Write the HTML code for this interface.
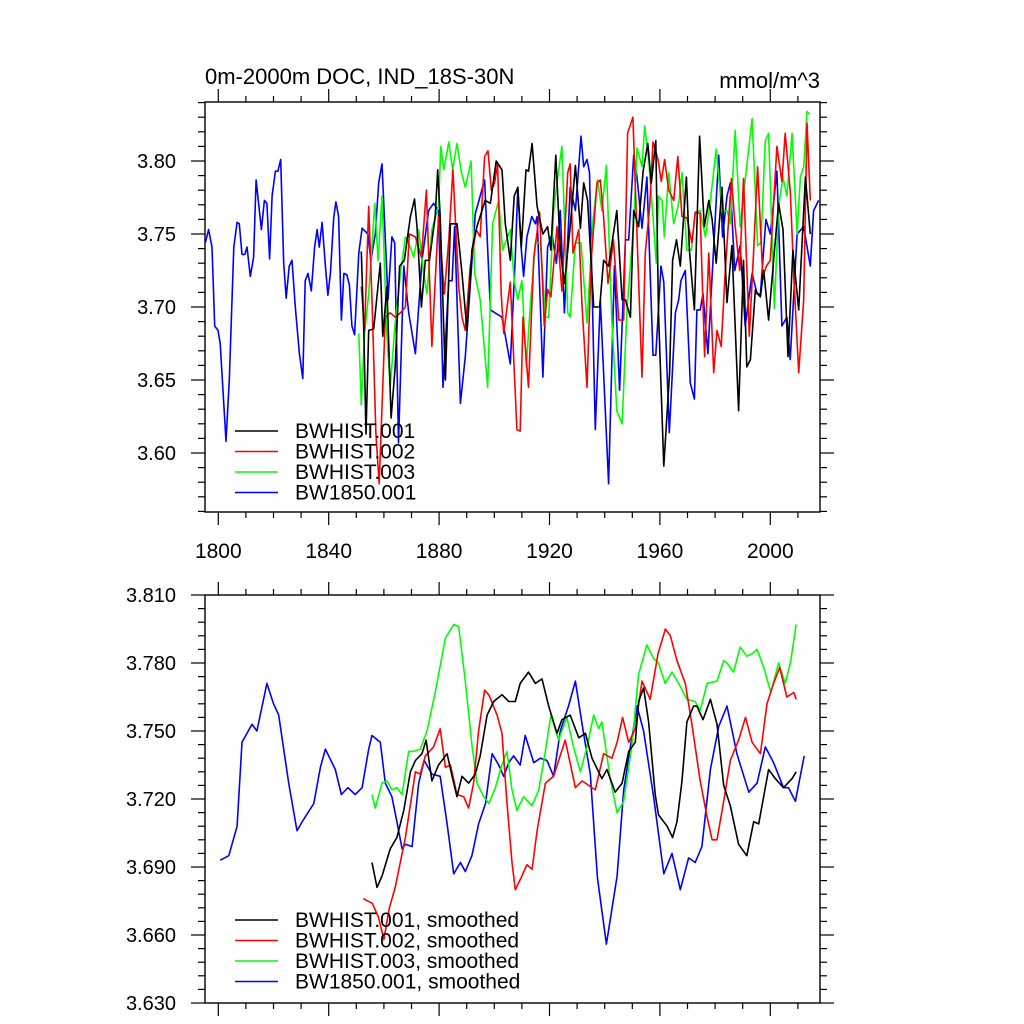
<!DOCTYPE html>
<html><head><meta charset="utf-8"><title>DOC chart</title>
<style>
html,body{margin:0;padding:0;background:#fff;}
svg{display:block;font-family:"Liberation Sans",Arial,sans-serif;}
</style></head>
<body>
<svg id="chart" width="1024" height="1024" viewBox="0 0 1024 1024" xmlns="http://www.w3.org/2000/svg">
<rect x="0" y="0" width="1024" height="1024" fill="#fff"/>
<text x="205" y="84" font-size="22">0m-2000m DOC, IND_18S-30N</text>
<text x="820" y="88" font-size="22" text-anchor="end">mmol/m^3</text>
<g id="top"></g>
<g id="bot"></g>
</svg>
<script>
// ---------- data: top panel (annual values) ----------
const topBlackYears=[1851.8,1852.7,1853.5,1854.5,1856.3,1858.7,1859.6,1861.1,1862.6,1864.1,1865.7,1867.4,1869.6,1871.1,1872,1873.6,1875,1876.5,1878.6,1879.5,1880.4,1882.3,1884.1,1886.5,1888.3,1890.1,1891.9,1893.7,1896.7,1898.6,1900.7,1902.8,1904,1905.8,1907.2,1908.5,1909.8,1911.5,1912.4,1913.7,1915.5,1917.6,1919.3,1920.5,1922.3,1923.9,1925.4,1927.5,1929.4,1931.2,1932.4,1933.8,1936,1938.2,1939.6,1941.4,1944.4,1946.3,1947.5,1949.3,1950.5,1952.3,1953.9,1955.6,1956.9,1958.5,1959.5,1961.4,1963.5,1964.6,1966,1967.4,1969.6,1970.7,1972.5,1974.4,1976.1,1977.7,1978.9,1980.4,1982.5,1984.3,1986.1,1988.5,1990.3,1991.5,1992.8,1994.6,1995.4,1996.4,1997.6,1999.4,2001.2,2003,2004.6,2006.4,2008.2,2010.3,2012.7,2014.5];
const topBlackVals=[3.738,3.684,3.613,3.684,3.685,3.730,3.680,3.714,3.624,3.659,3.728,3.732,3.762,3.774,3.755,3.700,3.732,3.732,3.762,3.794,3.762,3.650,3.757,3.757,3.723,3.684,3.739,3.755,3.773,3.771,3.800,3.794,3.757,3.732,3.776,3.782,3.741,3.794,3.793,3.812,3.769,3.750,3.755,3.739,3.804,3.739,3.716,3.755,3.797,3.754,3.785,3.773,3.700,3.700,3.732,3.728,3.766,3.705,3.705,3.693,3.766,3.755,3.793,3.812,3.785,3.814,3.696,3.591,3.655,3.732,3.746,3.728,3.789,3.739,3.698,3.817,3.755,3.773,3.760,3.730,3.782,3.703,3.742,3.629,3.732,3.659,3.664,3.712,3.709,3.707,3.725,3.691,3.732,3.771,3.753,3.666,3.739,3.698,3.789,3.750];
const topRedYears=[1851.8,1853,1854.5,1855.7,1857.1,1858.3,1860.5,1862.3,1864.1,1866,1867.8,1869.2,1871.4,1873.6,1875.4,1877.4,1879.8,1881.9,1883.5,1885,1887.1,1888.3,1889.5,1891.3,1893.4,1894.9,1896.5,1897.7,1898.9,1900.1,1901.2,1902.5,1903.4,1905.8,1908.2,1909.4,1910.4,1912.4,1914.3,1916.4,1918.1,1919.3,1920.5,1922.7,1924.5,1926.6,1927.5,1928.5,1930.6,1931.8,1933.6,1935.1,1937.2,1938.4,1939.6,1941.2,1943.2,1945.1,1946.9,1948.3,1950.2,1951.7,1953.5,1954.7,1956.3,1957.5,1959.3,1960.5,1961.7,1963.2,1965,1966.5,1968,1969.8,1971.6,1972.8,1974.6,1976.2,1977.7,1979.5,1980.7,1982.2,1983.7,1985.9,1987.3,1988.9,1990.3,1992.4,1994,1995.4,1997.3,1998.6,2000,2002.4,2004.2,2005.4,2007.3,2008.5,2010.3,2012.1,2013.3,2014.5];
const topRedVals=[3.714,3.684,3.769,3.705,3.613,3.579,3.693,3.696,3.693,3.696,3.700,3.750,3.748,3.734,3.780,3.673,3.762,3.709,3.746,3.794,3.714,3.693,3.684,3.728,3.753,3.748,3.803,3.807,3.780,3.785,3.798,3.709,3.682,3.717,3.616,3.615,3.693,3.645,3.734,3.765,3.687,3.712,3.707,3.755,3.711,3.792,3.798,3.737,3.753,3.700,3.645,3.732,3.785,3.787,3.762,3.716,3.746,3.691,3.691,3.819,3.830,3.750,3.652,3.737,3.769,3.813,3.801,3.786,3.801,3.780,3.773,3.803,3.762,3.761,3.744,3.765,3.764,3.666,3.737,3.655,3.684,3.673,3.725,3.788,3.755,3.725,3.788,3.680,3.739,3.796,3.721,3.728,3.732,3.810,3.786,3.819,3.778,3.721,3.655,3.705,3.826,3.773];
const topGreenYears=[1850.9,1851.8,1853,1854.5,1856.7,1857.9,1859.3,1861.1,1862.3,1864.1,1866,1867.8,1869,1870.8,1872.6,1874.4,1875.6,1877.4,1879.8,1880.6,1881.7,1883.5,1884.9,1886.5,1888.1,1889.5,1891.6,1892.9,1894.9,1897.6,1899.4,1901.6,1903,1905.8,1907.2,1908.5,1910,1911.6,1913,1914.9,1916.7,1918.5,1919.7,1921.5,1922.7,1924.5,1926.6,1927.5,1929.4,1931.4,1933.6,1935.8,1937.4,1939,1940.6,1942.6,1944.4,1946.3,1948.1,1950.5,1951.7,1953.5,1954.5,1955.9,1957.5,1958.7,1959.5,1960.8,1961.6,1963.2,1965,1966.8,1968,1969.8,1971.4,1972.8,1974.6,1976.5,1978.3,1980.4,1982.5,1984.3,1985.5,1987.3,1989.1,1990.9,1993.4,1995.4,1996.6,1998.2,1999.4,2001.5,2003,2004.6,2006,2007.9,2009.7,2010.9,2012.1,2013.3,2014.3];
const topGreenVals=[3.682,3.633,3.682,3.709,3.771,3.732,3.776,3.682,3.645,3.689,3.723,3.748,3.744,3.734,3.753,3.723,3.709,3.753,3.769,3.810,3.794,3.813,3.794,3.812,3.792,3.782,3.800,3.723,3.705,3.645,3.757,3.773,3.739,3.753,3.718,3.705,3.718,3.659,3.700,3.744,3.744,3.693,3.693,3.766,3.785,3.810,3.696,3.693,3.744,3.744,3.689,3.760,3.787,3.766,3.797,3.691,3.629,3.620,3.700,3.757,3.809,3.796,3.824,3.801,3.762,3.730,3.776,3.773,3.748,3.792,3.757,3.771,3.792,3.739,3.739,3.764,3.766,3.748,3.773,3.808,3.765,3.766,3.757,3.821,3.755,3.787,3.829,3.742,3.744,3.814,3.819,3.699,3.769,3.789,3.776,3.819,3.750,3.789,3.796,3.834,3.832];
const topBlueYears=[1795.3,1796.5,1797.7,1798.7,1799.9,1800.7,1802.8,1804,1805.6,1806.8,1807.6,1808.6,1809.6,1810.4,1811.6,1812.8,1813.7,1815.6,1816.7,1817.6,1818.6,1819.5,1820.7,1821.6,1822.6,1823.7,1824.6,1825.7,1826.7,1827.9,1829.4,1830.6,1831.5,1832.5,1833.7,1834.9,1835.8,1836.6,1837.6,1838.8,1839.7,1840.6,1841.8,1842.6,1843.6,1844.6,1845.5,1846.6,1847.5,1848.4,1849.4,1850.9,1852.1,1854.2,1855.3,1856.9,1858.1,1859.3,1861.5,1862.9,1863.9,1865.3,1867.2,1869,1871.4,1873.8,1876.2,1878,1879.8,1881.4,1883.5,1884.7,1885.6,1887.7,1889.5,1891.6,1893.1,1896.5,1898.6,1902.8,1905.8,1907.6,1908.5,1909.7,1910.6,1911.8,1913.6,1914.9,1915.5,1917.6,1919.3,1920.9,1922.5,1923.9,1925.4,1927.5,1929.4,1931.4,1932.4,1933.6,1934.5,1936.6,1938.4,1941.4,1943.5,1945.4,1947.5,1948.7,1950.5,1951.7,1953.5,1955.3,1957.5,1958.5,1960.4,1961.4,1963.4,1965.6,1966.8,1967.6,1969.2,1971,1972.5,1973.4,1974.6,1975.6,1977.4,1981.3,1982.7,1984.3,1985.5,1987.1,1989.1,1990.9,1993.4,1995.2,1996.4,1998.4,2000,2002.4,2004.2,2006,2007.2,2009.7,2012.1,2014.5,2015.7,2017.5];
const topBlueVals=[3.744,3.753,3.741,3.687,3.684,3.675,3.608,3.650,3.741,3.758,3.757,3.736,3.736,3.741,3.721,3.734,3.787,3.753,3.773,3.771,3.733,3.776,3.793,3.793,3.801,3.730,3.706,3.728,3.732,3.700,3.668,3.651,3.718,3.723,3.711,3.741,3.753,3.741,3.758,3.728,3.708,3.723,3.761,3.772,3.762,3.691,3.723,3.722,3.715,3.687,3.681,3.737,3.754,3.750,3.732,3.750,3.785,3.798,3.705,3.748,3.744,3.607,3.728,3.696,3.668,3.732,3.766,3.771,3.766,3.645,3.718,3.718,3.755,3.634,3.666,3.723,3.764,3.787,3.698,3.693,3.661,3.734,3.782,3.741,3.721,3.748,3.762,3.757,3.762,3.652,3.741,3.750,3.730,3.766,3.696,3.782,3.766,3.817,3.796,3.801,3.792,3.616,3.705,3.579,3.728,3.643,3.746,3.746,3.804,3.789,3.754,3.789,3.667,3.667,3.728,3.717,3.614,3.696,3.705,3.718,3.725,3.648,3.637,3.698,3.698,3.709,3.668,3.804,3.748,3.776,3.785,3.725,3.742,3.687,3.723,3.709,3.709,3.760,3.750,3.793,3.687,3.693,3.664,3.750,3.755,3.728,3.766,3.773];

// ---------- data: bottom panel (smoothed) ----------
const botBlackYears=[1855.7,1857.5,1859.3,1862.3,1864.7,1867.2,1869.6,1871.4,1873.8,1875.3,1877.4,1879.8,1882.9,1884.7,1886.5,1888.3,1890.7,1893.1,1894.9,1897.4,1899.8,1902.8,1905.2,1907.6,1909.4,1912.4,1914.9,1917.3,1919.7,1922.7,1924.5,1927.5,1930.6,1933,1935.4,1939,1940.8,1943.8,1946.3,1948.7,1951.1,1952.3,1954.1,1955.9,1958.3,1959.5,1962.6,1964.6,1966.2,1968,1969.8,1972.2,1973.4,1975.6,1978.3,1980.7,1983.1,1985.5,1988.5,1991.5,1994,1995.8,1999.4,2001.8,2004.8,2007.9,2009.4];
const botBlackVals=[3.692,3.681,3.686,3.698,3.703,3.715,3.732,3.737,3.740,3.746,3.728,3.735,3.740,3.730,3.721,3.730,3.727,3.731,3.739,3.757,3.763,3.766,3.763,3.763,3.771,3.776,3.771,3.773,3.761,3.749,3.755,3.757,3.747,3.749,3.738,3.729,3.733,3.723,3.727,3.741,3.745,3.763,3.769,3.754,3.722,3.713,3.708,3.703,3.710,3.728,3.754,3.761,3.761,3.755,3.764,3.753,3.726,3.717,3.700,3.695,3.710,3.709,3.733,3.729,3.725,3.729,3.732];
const botRedYears=[1852.5,1855.8,1858,1860,1862,1864.1,1867.8,1871.4,1873.2,1875,1878,1880.4,1882.3,1884.1,1886.5,1888.9,1890.7,1892.5,1894.3,1896.5,1898,1901,1902.8,1904.6,1906.4,1907.6,1910,1911.8,1913.7,1915.5,1918.5,1921.5,1925.7,1929.4,1931.8,1934.2,1936.6,1939.6,1942.6,1944.5,1946.5,1948.7,1951.1,1953.5,1956.5,1959.3,1962,1963.8,1966.2,1969.2,1971.6,1974.6,1977.1,1978.9,1980.7,1983.1,1985.5,1988.5,1991,1993.4,1996.4,1998.8,2001.2,2003.4,2006,2008.5,2009.4];
const botRedVals=[3.676,3.674,3.668,3.658,3.672,3.681,3.703,3.732,3.731,3.739,3.743,3.751,3.734,3.735,3.722,3.721,3.716,3.727,3.750,3.768,3.766,3.757,3.749,3.718,3.692,3.680,3.686,3.691,3.689,3.706,3.727,3.730,3.746,3.725,3.728,3.726,3.724,3.740,3.738,3.745,3.756,3.745,3.751,3.772,3.764,3.784,3.795,3.792,3.781,3.771,3.753,3.728,3.712,3.702,3.702,3.719,3.737,3.746,3.756,3.745,3.740,3.762,3.771,3.778,3.765,3.767,3.764];
const botGreenYears=[1855.7,1856.9,1859.3,1861.1,1862.9,1864.7,1866.6,1869,1870.8,1873.2,1875.6,1878.6,1882.3,1885.3,1887.1,1889.5,1891.9,1893.7,1896.2,1898,1900.4,1902.2,1904.6,1906.4,1908.2,1910.6,1913.7,1916.1,1918.5,1920.5,1923.3,1926.3,1928.7,1931.2,1933.6,1936,1937.8,1939,1942,1944.5,1946.9,1949.9,1952.3,1955.3,1957.7,1959.5,1961.9,1964.4,1966.8,1969.8,1972.8,1974.6,1977.1,1980.7,1983.1,1984.3,1986.7,1989.1,1991.5,1993.4,1995.2,1997.6,2000.2,2003,2005.4,2007.3,2009.4];
const botGreenVals=[3.722,3.716,3.727,3.728,3.724,3.725,3.722,3.741,3.741,3.742,3.750,3.767,3.791,3.797,3.796,3.772,3.744,3.727,3.721,3.718,3.725,3.733,3.741,3.724,3.715,3.721,3.717,3.724,3.741,3.757,3.746,3.756,3.743,3.732,3.743,3.757,3.751,3.754,3.729,3.714,3.719,3.744,3.775,3.788,3.782,3.780,3.771,3.776,3.771,3.764,3.763,3.759,3.771,3.772,3.781,3.780,3.776,3.787,3.783,3.784,3.786,3.778,3.767,3.780,3.771,3.780,3.797];
const botBlueYears=[1800.7,1803.8,1806.8,1808.6,1812.2,1814,1817.6,1820,1821.9,1825.5,1828.5,1830.9,1834.6,1837,1838.8,1842.4,1844.6,1847,1849.6,1852.1,1854.5,1855.7,1858.7,1860.5,1862.9,1864.7,1866.6,1867.8,1870.2,1872.6,1874.6,1877.4,1880.4,1882.9,1885.3,1887.7,1889.5,1891.9,1894.3,1896.8,1899.2,1901.6,1903.4,1905.2,1907,1909.4,1911.2,1914.3,1916.7,1919.1,1921.5,1923.9,1926.9,1929.4,1931.8,1934.8,1937.4,1940.6,1944.5,1946.9,1949.3,1951.7,1954.1,1957.7,1961.4,1964.4,1967.4,1970.4,1972.8,1975.2,1978.3,1981.3,1984.3,1987.9,1992.2,1995.2,1998.2,2001.2,2004.8,2006.6,2009.1,2012.3];
const botBlueVals=[3.693,3.695,3.708,3.745,3.753,3.750,3.771,3.762,3.757,3.727,3.706,3.711,3.718,3.734,3.742,3.733,3.722,3.725,3.722,3.725,3.742,3.748,3.745,3.727,3.721,3.710,3.698,3.700,3.699,3.727,3.737,3.731,3.730,3.709,3.687,3.692,3.688,3.695,3.709,3.718,3.740,3.735,3.730,3.736,3.739,3.735,3.748,3.736,3.738,3.737,3.730,3.750,3.761,3.772,3.753,3.731,3.685,3.656,3.686,3.724,3.743,3.761,3.750,3.721,3.687,3.696,3.680,3.694,3.692,3.699,3.733,3.752,3.761,3.740,3.723,3.727,3.743,3.736,3.725,3.725,3.719,3.739];

const xTickLabels=["1800","1840","1880","1920","1960","2000"];
const topYTickLabels=["3.60","3.65","3.70","3.75","3.80"];
const botYTickLabels=["3.630","3.660","3.690","3.720","3.750","3.780","3.810"];
const legendTop=["BWHIST.001","BWHIST.002","BWHIST.003","BW1850.001"];
const legendBot=["BWHIST.001, smoothed","BWHIST.002, smoothed","BWHIST.003, smoothed","BW1850.001, smoothed"];
const colors=["#000000","#ff0000","#00ff00","#0000ff"];

const NS="http://www.w3.org/2000/svg";
const L=205,R=820;
const xs=y=>218.3+(y-1800)*2.76;
const topY=v=>161+(3.80-v)*1460;
const botY=v=>595+(3.81-v)*2266.7;

function mk(parent,tag,attrs){const e=document.createElementNS(NS,tag);for(const k in attrs)e.setAttribute(k,attrs[k]);parent.appendChild(e);return e;}

function frame(g,T,B,yfun,labels,minorStep,showXLabels,prefix){
  const f=mk(g,'rect',{x:L,y:T,width:R-L,height:B-T,fill:'none',stroke:'#000','stroke-width':1.4});
  
  
  for(let yr=1800;yr<=2010;yr+=10){
    const x=xs(yr);if(x<L||x>R)continue;
    const major=(yr-1800)%40===0;const len=major?13:6;
    const t1=mk(g,'line',{x1:x,x2:x,y1:T,y2:T-len,stroke:'#000','stroke-width':1.2});
    
    
    const t2=mk(g,'line',{x1:x,x2:x,y1:B,y2:B+len,stroke:'#000','stroke-width':1.2});
    
    
  }
  if(showXLabels){
    xTickLabels.forEach(s=>{
      const t=mk(g,'text',{x:xs(+s),y:558,'font-size':21,'text-anchor':'middle'});t.textContent=s;
      
      
    });
  }
  const lo=+labels[0],hi=+labels[labels.length-1];
  for(let v=lo-minorStep*10;v<=hi+minorStep*10+1e-9;v+=minorStep){
    const y=yfun(v);if(y<T-0.5||y>B+0.5)continue;
    const k=Math.round((v-lo)/minorStep);const major=k%5===0;const len=major?14:7;
    const a=mk(g,'line',{x1:L,x2:L-len,y1:y,y2:y,stroke:'#000','stroke-width':1.2});
    
    
    const b=mk(g,'line',{x1:R,x2:R+len,y1:y,y2:y,stroke:'#000','stroke-width':1.2});
    
    
  }
  labels.forEach(s=>{
    const t=mk(g,'text',{x:176,y:yfun(+s)+7,'font-size':20,'text-anchor':'end'});t.textContent=s;
    
    
  });
}
function series(g,years,vals,yfun,color,name){
  const d=years.map((yr,i)=>(i?'L':'M')+xs(yr).toFixed(1)+','+yfun(vals[i]).toFixed(1)).join('');
  const p=mk(g,'path',{d:d,fill:'none',stroke:color,'stroke-width':1.6,'stroke-linejoin':'round'});
  
  
}
function legend(g,labels,y0,dy,prefix){
  labels.forEach((s,i)=>{
    const y=y0+i*dy;
    const l=mk(g,'line',{x1:235,x2:278,y1:y,y2:y,stroke:colors[i],'stroke-width':1.5});
    
    
    const t=mk(g,'text',{x:295,y:y+7,'font-size':21});t.textContent=s;
    
    
  });
}
const gt=document.getElementById('top'),gb=document.getElementById('bot');
frame(gt,102,512,topY,topYTickLabels,0.01,true,'top');
series(gt,topBlueYears,topBlueVals,topY,colors[3],'bw1850-001-line');
series(gt,topGreenYears,topGreenVals,topY,colors[2],'bwhist-003-line');
series(gt,topRedYears,topRedVals,topY,colors[1],'bwhist-002-line');
series(gt,topBlackYears,topBlackVals,topY,colors[0],'bwhist-001-line');
legend(gt,legendTop,431,20.5,'top');
frame(gb,595,1003,botY,botYTickLabels,0.006,false,'bottom');
series(gb,botBlueYears,botBlueVals,botY,colors[3],'bw1850-001-smoothed-line');
series(gb,botGreenYears,botGreenVals,botY,colors[2],'bwhist-003-smoothed-line');
series(gb,botRedYears,botRedVals,botY,colors[1],'bwhist-002-smoothed-line');
series(gb,botBlackYears,botBlackVals,botY,colors[0],'bwhist-001-smoothed-line');
legend(gb,legendBot,920,20.5,'bottom');
</script>
</body></html>
